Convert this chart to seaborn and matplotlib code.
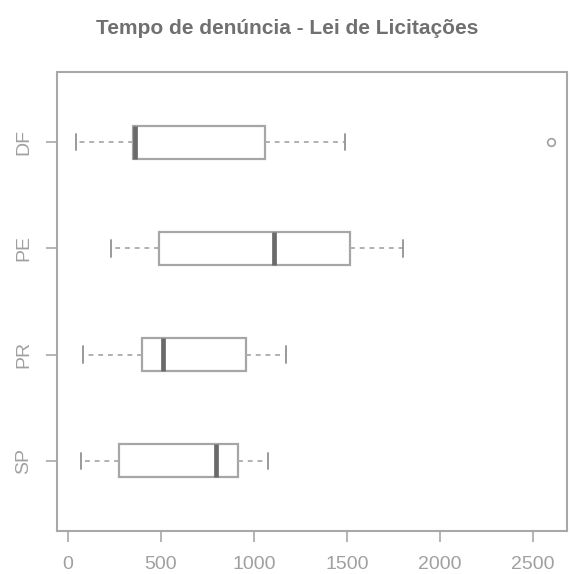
import matplotlib
matplotlib.use("Agg")
import matplotlib.pyplot as plt
import seaborn as sns
import pandas as pd

states = ["DF", "PE", "PR", "SP"]
df_vals = [43, 351, 351, 360, 360, 1062, 1062, 1488, 2600]
pe_vals = [231, 489, 1106, 1516, 1801]
pr_vals = [82, 401, 512, 960, 1172]
sp_vals = [68, 272, 795, 917, 1076]
x_ticks = [0, 500, 1000, 1500, 2000, 2500]
title = "Tempo de denúncia - Lei de Licitações"

rows = []
for s, vals in zip(states, [df_vals, pe_vals, pr_vals, sp_vals]):
    for v in vals:
        rows.append({"estado": s, "dias": v})
data = pd.DataFrame(rows)

sns.set_theme(style="white")
plt.rcParams["font.family"] = ["Liberation Sans", "DejaVu Sans"]

fig = plt.figure(figsize=(5.70, 5.74), dpi=100)
ax = fig.add_axes([57 / 570, 1 - 531 / 574, 510 / 570, 459 / 574])

frame_c = "#a8a8a8"
text_c = "#a0a0a0"

sns.boxplot(
    data=data, x="dias", y="estado", order=states, orient="h",
    width=0.31, whis=1.5, color="white", linecolor="#a6a6a6", linewidth=1.6,
    fliersize=5.5, ax=ax,
    medianprops={"color": "#6a6a6a", "linewidth": 3.4},
    whiskerprops={"color": "#b0b0b0", "linestyle": (0, (2.5, 2.5)), "linewidth": 1.4},
    capprops={"color": "#9a9a9a", "linewidth": 1.4},
    flierprops={"marker": "o", "markerfacecolor": "none", "markeredgecolor": "#a0a0a0",
                "markeredgewidth": 1.2},
)

ax.set_xlim(-59, 2685)
ax.set_ylim(3.66, -0.66)
ax.set_xticks(x_ticks)
ax.set_xticklabels([str(t) for t in x_ticks])
ax.set_xlabel("")
ax.set_ylabel("")
for lbl in ax.get_yticklabels():
    lbl.set_rotation(90)
    lbl.set_va("center")

ax.tick_params(axis="both", which="both", direction="out", length=8, width=1.2,
               color=frame_c, labelcolor=text_c, labelsize=14, pad=10,
               bottom=True, left=True)
for sp in ax.spines.values():
    sp.set_visible(True)
    sp.set_color(frame_c)
    sp.set_linewidth(1.5)

fig.text(0.503, 1 - 28 / 574, title, ha="center", va="center",
         fontsize=15, fontweight="bold", color="#707070")

fig.savefig("out.png", dpi=100, facecolor="white")
